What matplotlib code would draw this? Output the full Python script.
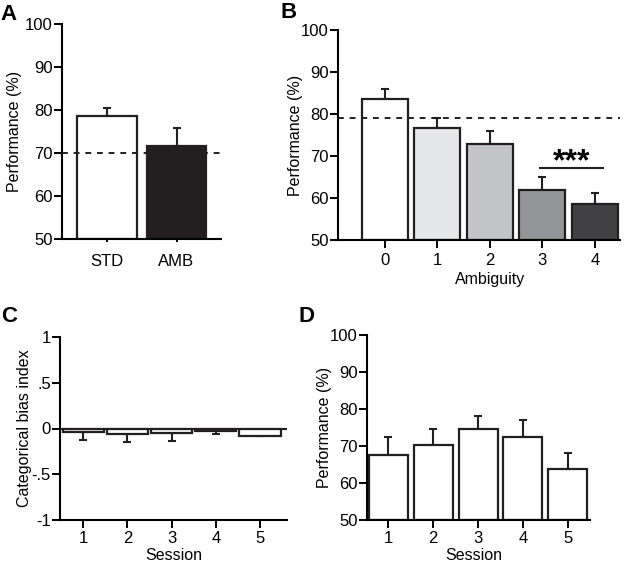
import matplotlib
matplotlib.use("Agg")
import matplotlib.pyplot as plt

plt.rcParams['font.family'] = ['Liberation Sans', 'DejaVu Sans']
plt.rcParams['font.size'] = 12
plt.rcParams['axes.labelsize'] = 11.5

# panel A
a_labels = ['STD', 'AMB']
a_vals = [78.6, 71.6]
a_err = [1.8, 4.1]
a_colors = ['white', '#231f20']
a_chance = 70

# panel B
b_labels = ['0', '1', '2', '3', '4']
b_vals = [83.6, 76.6, 72.9, 61.9, 58.5]
b_err = [2.3, 2.4, 3.1, 3.2, 2.8]
b_colors = ['white', '#e6e7e8', '#c4c5c7', '#939598', '#414042']
b_chance = 79

# panel C
c_labels = ['1', '2', '3', '4', '5']
c_vals = [-0.037, -0.062, -0.047, -0.025, -0.08]
c_err = [0.09, 0.084, 0.093, 0.03, 0.0]

# panel D
d_labels = ['1', '2', '3', '4', '5']
d_vals = [67.5, 70.3, 74.6, 72.5, 63.7]
d_err = [4.9, 4.3, 3.6, 4.5, 4.3]

W, H = 626, 564
fig = plt.figure(figsize=(W / 100, H / 100), dpi=100)


def box(l, t, r, b):
    return [l / W, 1 - b / H, (r - l) / W, (b - t) / H]


def style(ax):
    ax.spines['top'].set_visible(False)
    ax.spines['right'].set_visible(False)
    ax.spines['left'].set_linewidth(1.5)
    ax.spines['bottom'].set_linewidth(1.5)
    ax.tick_params(width=1.4, length=5.5, direction='out', pad=1)
    ax.tick_params(axis='x', pad=2.5)


# A
axA = fig.add_axes(box(62, 24, 221, 239))
xa = list(range(len(a_vals)))
axA.bar(xa, [v - 50 for v in a_vals], bottom=50, width=0.86, color=a_colors,
        edgecolor='#231f20', linewidth=1.6, zorder=2)
axA.errorbar(xa, a_vals, yerr=[[0, 0], a_err], fmt='none', ecolor='#231f20',
             elinewidth=1.5, capsize=3, capthick=1.5, zorder=1)
axA.axhline(a_chance, color='#231f20', linestyle=(0, (3, 3)), linewidth=1.4, zorder=3)
axA.set_xlim(-0.647, 1.64)
axA.set_ylim(50, 100)
axA.set_yticks([50, 60, 70, 80, 90, 100])
axA.set_xticks(xa)
axA.set_xticklabels(a_labels)
axA.set_ylabel('Performance (%)')
axA.yaxis.set_label_coords(-0.252, 0.5)
style(axA)
axA.tick_params(axis='x', length=2, pad=9)

# B
axB = fig.add_axes(box(338, 30, 620, 240))
xb = list(range(len(b_vals)))
axB.bar(xb, [v - 50 for v in b_vals], bottom=50, width=0.876, color=b_colors,
        edgecolor='#231f20', linewidth=1.6, zorder=2)
axB.errorbar(xb, b_vals, yerr=[[0] * 5, b_err], fmt='none', ecolor='#231f20',
             elinewidth=1.5, capsize=3, capthick=1.5, zorder=1)
axB.axhline(b_chance, color='#231f20', linestyle=(0, (3, 3)), linewidth=1.4, zorder=3)
axB.plot([2.95, 4.15], [67.1, 67.1], color='#231f20', linewidth=1.5)
axB.text(3.55, 68.6, '***', ha='center', va='center', fontsize=23, fontweight='bold')
axB.set_xlim(-0.895, 4.48)
axB.set_ylim(50, 100)
axB.set_yticks([50, 60, 70, 80, 90, 100])
axB.set_xticks(xb)
axB.set_xticklabels(b_labels)
axB.set_ylabel('Performance (%)')
axB.yaxis.set_label_coords(-0.124, 0.5)
axB.set_xlabel('Ambiguity')
axB.xaxis.set_label_coords(0.539, -0.152)
style(axB)
axB.tick_params(axis='x', pad=4)

# C
axC = fig.add_axes(box(60, 337, 287, 520))
xc = [1, 2, 3, 4, 5]
axC.bar(xc, c_vals, width=0.93, color='white', edgecolor='#231f20', linewidth=1.6,
        zorder=2)
axC.errorbar(xc, c_vals, yerr=[c_err, [0] * 5], fmt='none', ecolor='#231f20',
             elinewidth=1.5, capsize=3, capthick=1.5, zorder=1)
axC.axhline(0, color='#231f20', linewidth=1.5, zorder=3)
axC.set_xlim(0.477, 5.61)
axC.set_ylim(-1, 1)
axC.set_yticks([-1, -0.5, 0, 0.5, 1])
axC.set_yticklabels(['-1', '-.5', '0', '.5', '1'])
axC.set_xticks(xc)
axC.set_xticklabels(c_labels)
axC.set_ylabel('Categorical bias index')
axC.yaxis.set_label_coords(-0.123, 0.5)
axC.set_xlabel('Session')
axC.xaxis.set_label_coords(0.5, -0.152)
style(axC)

# D
axD = fig.add_axes(box(367, 335, 590, 520))
xd = [1, 2, 3, 4, 5]
axD.bar(xd, [v - 50 for v in d_vals], bottom=50, width=0.87, color='white',
        edgecolor='#231f20', linewidth=1.6, zorder=2)
axD.errorbar(xd, d_vals, yerr=[[0] * 5, d_err], fmt='none', ecolor='#231f20',
             elinewidth=1.5, capsize=3, capthick=1.5, zorder=1)
axD.set_xlim(0.52, 5.5)
axD.set_ylim(50, 100)
axD.set_yticks([50, 60, 70, 80, 90, 100])
axD.set_xticks(xd)
axD.set_xticklabels(d_labels)
axD.set_ylabel('Performance (%)')
axD.yaxis.set_label_coords(-0.157, 0.5)
axD.set_xlabel('Session')
axD.xaxis.set_label_coords(0.478, -0.152)
style(axD)

for lab, (px, py) in zip('ABCD', [(0, 14), (281, 13), (1, 316), (299, 317)]):
    fig.text(px / W, 1 - py / H, lab, fontsize=16, fontweight='bold', va='center')

fig.savefig('out.png', dpi=100)
